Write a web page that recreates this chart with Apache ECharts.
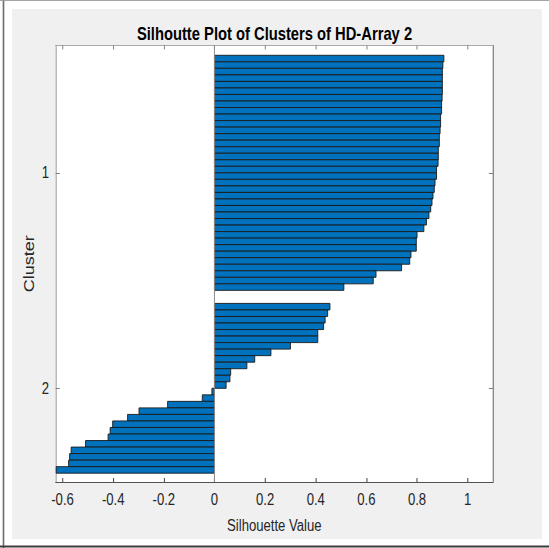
<!DOCTYPE html>
<html>
<head>
<meta charset="utf-8">
<title>Silhoutte Plot of Clusters of HD-Array 2</title>
<script src="https://cdn.jsdelivr.net/npm/echarts@6/dist/echarts.min.js"></script>
<style>
  html, body { margin: 0; padding: 0; background: #ffffff; overflow: hidden; }
  #chart { height: 548px; transform-origin: 0 0; }
</style>
</head>
<body>
<div id="chart"></div>
<script>
// Silhouette values per cluster, sorted in descending order within each cluster
const cluster1Values = [
  0.906, 0.902, 0.900, 0.900, 0.900, 0.900, 0.899, 0.897, 0.897, 0.893,
  0.893, 0.891, 0.888, 0.888, 0.884, 0.884, 0.883, 0.877, 0.877, 0.871,
  0.868, 0.863, 0.859, 0.854, 0.847, 0.837, 0.827, 0.800, 0.797, 0.797,
  0.776, 0.771, 0.739, 0.638, 0.627, 0.511
];
const cluster2Values = [
  0.456, 0.447, 0.437, 0.431, 0.408, 0.408, 0.300, 0.223, 0.159, 0.128,
  0.064, 0.061, 0.046, -0.010, -0.048, -0.185, -0.298, -0.343, -0.402, -0.412,
  -0.420, -0.509, -0.566, -0.572, -0.576, -0.625
];
const clusterNames = ['1', '2'];
const xTickValues = [-0.6, -0.4, -0.2, 0, 0.2, 0.4, 0.6, 0.8, 1];

// Row layout (in bar-row units): padding above, gap between clusters, padding below
const TOP_PAD = 1.5;
const CLUSTER_GAP = 2;
const BOTTOM_PAD = 1.35;

const clusters = [cluster1Values, cluster2Values];
const rows = [];          // [value, rowPosition]
const clusterCenters = [];
let pos = TOP_PAD + 0.5;
clusters.forEach((vals) => {
  const first = pos;
  vals.forEach(v => { rows.push([v, pos]); pos += 1; });
  clusterCenters.push((first + pos - 1) / 2);
  pos += CLUSTER_GAP;
});
const yMax = pos - CLUSTER_GAP - 0.5 + BOTTOM_PAD;

// The figure is laid out on a wider canvas and squeezed horizontally,
// giving the narrow lettering of the exported figure.
const SX = 0.82;
const PAGE_W = 549, PAGE_H = 548;
const W = PAGE_W / SX;
const X = px => px / SX;   // page x-pixels -> layout x-pixels

const FONT = "'Liberation Sans', Arial, Helvetica, sans-serif";
const TEXT = '#262626';

const dom = document.getElementById('chart');
dom.style.width = W + 'px';
dom.style.transform = 'scaleX(' + SX + ')';
const chart = echarts.init(dom, null, { renderer: 'svg', width: W, height: PAGE_H });

const GRID = { left: X(55.7), top: 45.5, width: X(493) - X(55.7), height: 436.5 };

chart.setOption({
  animation: false,
  backgroundColor: '#ffffff',
  graphic: [
    // figure panel and its frame
    { type: 'rect', silent: true, z: -10,
      shape: { x: X(12), y: 9, width: X(542) - X(12), height: 530 },
      style: { fill: '#f0f0f0' } },
    { type: 'line', silent: true, z: -9,
      shape: { x1: X(3.5), y1: 0, x2: X(3.5), y2: PAGE_H },
      style: { stroke: '#6e6e6e', lineWidth: 2 } },
    { type: 'line', silent: true, z: -9,
      shape: { x1: 0, y1: 0.5, x2: W, y2: 0.5 },
      style: { stroke: '#9a9a9a', lineWidth: 1 } },
    { type: 'line', silent: true, z: -9,
      shape: { x1: 0, y1: 546.5, x2: W, y2: 546.5 },
      style: { stroke: '#3c3c3c', lineWidth: 2 } },
    // white axes background
    { type: 'rect', silent: true, z: -8,
      shape: { x: GRID.left, y: GRID.top, width: GRID.width, height: GRID.height },
      style: { fill: '#ffffff' } }
  ],
  title: {
    text: 'Silhoutte Plot of Clusters of HD-Array 2',
    left: 'center',
    top: 19,
    textStyle: { fontFamily: FONT, fontSize: 18, fontWeight: 'bold', color: '#000000' }
  },
  grid: GRID,
  xAxis: [
    {
      type: 'value', position: 'bottom',
      min: -0.627, max: 1.1,
      name: 'Silhouette Value', nameLocation: 'middle', nameGap: 36,
      nameMoveOverlap: false,
      nameTextStyle: { fontFamily: FONT, fontSize: 16, color: TEXT },
      axisLine: { show: true, onZero: false, lineStyle: { color: '#404040', width: 1 } },
      axisTick: { show: true, inside: true, length: 4, customValues: xTickValues,
                  lineStyle: { color: '#404040', width: 1.2 } },
      axisLabel: { show: true, margin: 10, customValues: xTickValues,
                   fontFamily: FONT, fontSize: 16, color: TEXT,
                   formatter: v => String(v) },
      splitLine: { show: false }
    },
    {
      type: 'value', position: 'top',
      min: -0.627, max: 1.1,
      axisLine: { show: true, onZero: false, lineStyle: { color: '#a0a0a0', width: 1 } },
      axisTick: { show: true, inside: true, length: 4, customValues: xTickValues,
                  lineStyle: { color: '#808080', width: 1.2 } },
      axisLabel: { show: false },
      splitLine: { show: false }
    }
  ],
  yAxis: [
    {
      type: 'value', position: 'left', inverse: true,
      min: 0, max: yMax,
      name: 'Cluster', nameLocation: 'middle', nameGap: 24,
      nameMoveOverlap: false,
      nameTextStyle: { fontFamily: FONT, fontSize: 18, color: TEXT },
      axisLine: { show: true, onZero: false, lineStyle: { color: '#9a9a9a', width: 1.2 } },
      axisTick: { show: true, inside: true, length: 5, customValues: clusterCenters,
                  lineStyle: { color: '#707070' } },
      axisLabel: { show: true, margin: 8, customValues: clusterCenters,
                   fontFamily: FONT, fontSize: 16, color: TEXT,
                   formatter: v => {
                     const i = clusterCenters.findIndex(c => Math.abs(c - v) < 1e-6);
                     return i >= 0 ? clusterNames[i] : '';
                   } },
      splitLine: { show: false }
    },
    {
      type: 'value', position: 'right', inverse: true,
      min: 0, max: yMax,
      axisLine: { show: true, onZero: false, lineStyle: { color: '#606060', width: 1.2 } },
      axisTick: { show: true, inside: true, length: 5, customValues: clusterCenters,
                  lineStyle: { color: '#707070' } },
      axisLabel: { show: false },
      splitLine: { show: false }
    }
  ],
  series: [
    {
      type: 'custom',
      xAxisIndex: 0,
      yAxisIndex: 0,
      data: rows,
      encode: { x: 0, y: 1 },
      renderItem: (params, api) => {
        const v = api.value(0);
        const p = api.value(1);
        const a = api.coord([0, p - 0.5]);
        const b = api.coord([v, p + 0.5]);
        return {
          type: 'rect',
          shape: {
            x: Math.min(a[0], b[0]), y: Math.min(a[1], b[1]),
            width: Math.abs(b[0] - a[0]), height: Math.abs(b[1] - a[1])
          },
          style: { fill: '#0072BD', stroke: '#1a1a1a', lineWidth: 1 }
        };
      },
      markLine: {
        silent: true,
        symbol: 'none',
        label: { show: false },
        lineStyle: { color: '#8a8a8a', width: 1.2, type: 'solid' },
        data: [{ xAxis: 0 }]
      }
    }
  ]
});
</script>
</body>
</html>
